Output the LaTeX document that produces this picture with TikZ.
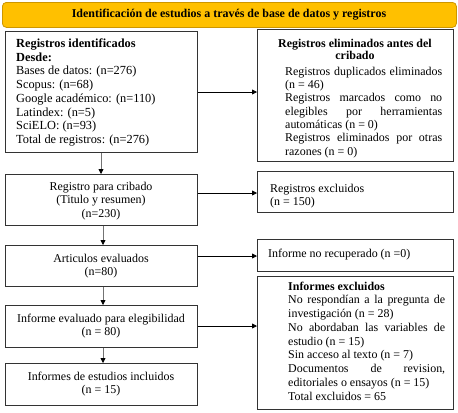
\documentclass[tikz,border=0pt]{standalone}
\usepackage{fontspec}
\setmainfont{Liberation Serif}
\usetikzlibrary{arrows.meta}
\definecolor{headfill}{RGB}{255,192,0}
\definecolor{headdraw}{RGB}{205,150,0}
\begin{document}
\begin{tikzpicture}[x=1bp,y=-1bp,
  box/.style={draw=black!80, line width=0.8bp, rectangle, inner sep=0pt, anchor=north west},
  txt/.style={inner sep=0pt, font=\fontsize{12}{13.8}\selectfont},
  jtxt/.style={txt, text width=157bp, align=justify, anchor=north west},
  arr/.style={line width=0.8bp, black, -{Triangle[length=5bp,width=5bp]}},
  varr/.style={line width=0.8bp, draw=black!55, -{Triangle[length=5bp,width=5bp,color=black]}},
]
\useasboundingbox (0,0) rectangle (458,412);
% header
\node[draw=headdraw, fill=headfill, line width=0.8bp, rounded corners=4bp, minimum width=454bp, minimum height=25bp, anchor=north west, inner sep=0pt] (head) at (2,2) {};
\node[txt, font=\bfseries\fontsize{12}{13}\selectfont] (headt) at (229,15) {Identificación de estudios a través de base de datos y registros};
% left column
\node[box, minimum width=192bp, minimum height=121bp] (b1) at (5,31) {};
\node[txt, anchor=north west, align=left, font=\fontsize{12.4}{13.8}\selectfont] (b1t) at (16,38.5) {\textbf{Registros identificados}\\ \textbf{Desde:}\\ Bases de datos: (n=276)\\ Scopus: (n=68)\\ Google académico: (n=110)\\ Latindex: (n=5)\\ SciELO: (n=93)\\ Total de registros: (n=276)};
\node[box, minimum width=192bp, minimum height=51bp] (b2) at (5,174) {};
\node[txt, align=center] (b2t) at (101,201) {Registro para cribado\\ (Titulo y resumen)\\ (n=230)};
\node[box, minimum width=192bp, minimum height=41bp] (b3) at (5,245) {};
\node[txt, align=center] (b3t) at (101,266) {Articulos evaluados\\ (n=80)};
\node[box, minimum width=192bp, minimum height=42bp] (b4) at (5,305) {};
\node[txt, align=center] (b4t) at (101,326) {Informe evaluado para elegibilidad\\ (n = 80)};
\node[box, minimum width=192bp, minimum height=42bp] (b5) at (5,363) {};
\node[txt, align=center] (b5t) at (101,384) {Informes de estudios incluidos\\ (n = 15)};
% right column
\node[box, minimum width=196bp, minimum height=132bp] (r1) at (257,29) {};
\node[txt, align=center, font=\bfseries\fontsize{12}{12.5}\selectfont, anchor=north] (r1h) at (355,38.5) {Registros eliminados antes del\\ cribado};
\node[jtxt, font=\fontsize{12}{13.4}\selectfont] (r1t) at (285,66.5) {\parindent=0pt\hyphenpenalty=10000\tolerance=10000 Registros duplicados eliminados\linebreak (n = 46)\par Registros marcados como no\linebreak elegibles por herramientas\linebreak automáticas (n = 0)\par Registros eliminados por otras\linebreak razones (n = 0)};
\node[box, minimum width=196bp, minimum height=41bp] (r2) at (257,171) {};
\node[txt, anchor=north west, align=left] (r2t) at (270,183.5) {Registros excluidos\\ (n = 150)};
\node[box, minimum width=196bp, minimum height=32bp] (r3) at (257,239) {};
\node[txt, anchor=west] (r3t) at (268,255) {Informe no recuperado (n =0)};
\node[box, minimum width=196bp, minimum height=133bp] (r4) at (257,276) {};
\node[jtxt] (r4t) at (288,281.5) {\parindent=0pt\hyphenpenalty=10000\tolerance=10000 \textbf{Informes excluidos}\par No respondían a la pregunta de\linebreak investigación (n = 28)\par No abordaban las variables de\linebreak estudio (n = 15)\par Sin acceso al texto (n = 7)\par Documentos de revision,\linebreak editoriales o ensayos (n = 15)\par Total excluidos = 65};
% connectors
\draw[arr] (b1.east |- 0,92) coordinate (a1s) -- (r1.west |- a1s);
\draw[arr] (b2.east |- 0,193) coordinate (a2s) -- (r2.west |- a2s);
\draw[arr] (b3.east |- 0,256) coordinate (a3s) -- (r3.west |- a3s);
\draw[arr] (b4.east |- 0,326) coordinate (a4s) -- (r4.west |- a4s);
\draw[varr] (b1.south -| 101,0) coordinate (v1s) -- (b2.north -| v1s);
\draw[varr] (b2.south -| 103,0) coordinate (v2s) -- (b3.north -| v2s);
\draw[varr] (b3.south -| 103,0) coordinate (v3s) -- (b4.north -| v3s);
\draw[varr] (b4.south -| 103,0) coordinate (v4s) -- (b5.north -| v4s);
\end{tikzpicture}
\end{document}
